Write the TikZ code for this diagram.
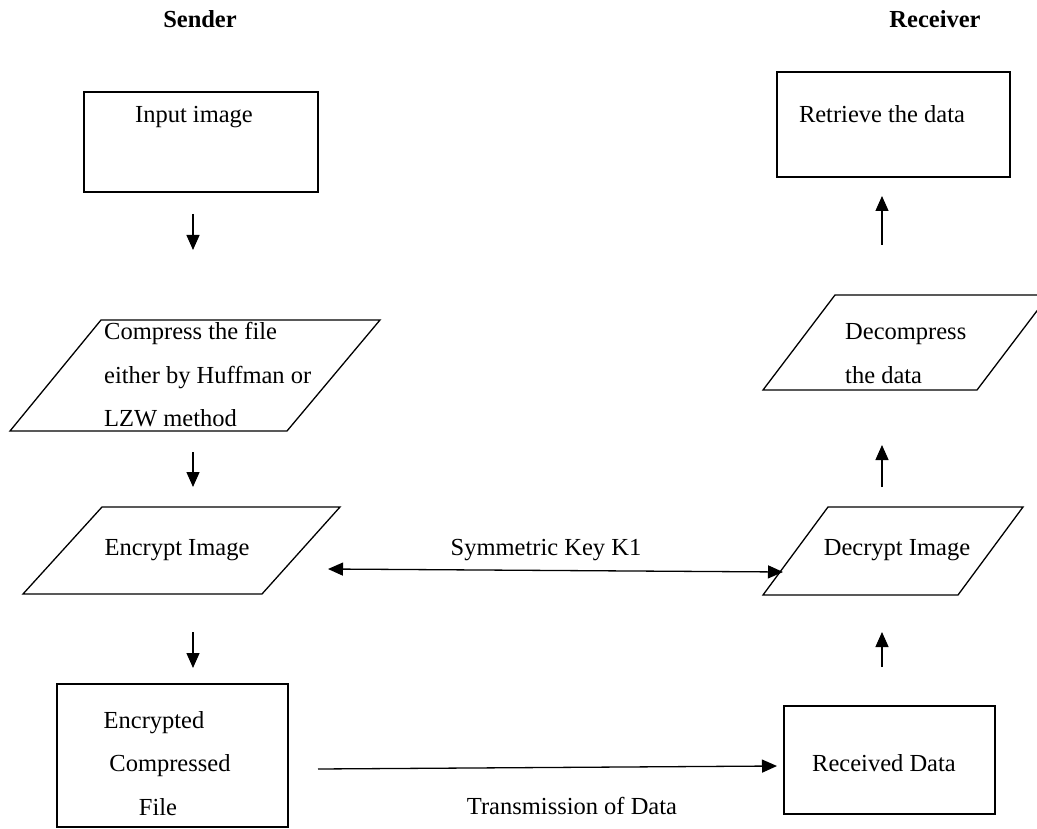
\documentclass[tikz,border=0pt]{standalone}
\usepackage{fontspec}
\setmainfont{Liberation Serif}
\usetikzlibrary{arrows.meta}
\begin{document}
\begin{tikzpicture}[x=1pt,y=-1pt,
  shp/.style={draw=black,line width=1.3pt,line join=miter},
  lbl/.style={inner sep=0pt,anchor=base,font=\fontsize{24.5}{29}\selectfont},
  lblw/.style={lbl,anchor=base west},
  hdr/.style={lbl,font=\fontsize{24.5}{29}\selectfont\bfseries},
  arr/.style={line width=1.3pt,-{Triangle[length=15pt,width=13pt]}},
  darr/.style={line width=1.3pt,{Triangle[length=15pt,width=13pt]}-{Triangle[length=15pt,width=13pt]}}]
\useasboundingbox (0,0) rectangle (1037,829);
\fill[white] (0,0) rectangle (1037,829);
% headers
\node[hdr] (sender) at (200,28) {Sender};
\node[hdr] (receiver) at (935,28) {Receiver};
% left column shapes
\draw[shp] (84,92) rectangle (318,192);
\node[lbl] (input) at (194,123) {Input image};
\draw[shp] (101,320) -- (380,320) -- (287,431) -- (10,431) -- cycle;
\node[lblw] (comp1) at (104,339) {Compress the file};
\node[lblw] (comp2) at (104,383) {either by Huffman or};
\node[lblw] (comp3) at (104,426) {LZW method};
\draw[shp] (102,507) -- (340,507) -- (262,594) -- (23,594) -- cycle;
\node[lbl] (encrypt) at (177,555) {Encrypt Image};
\draw[shp] (57,684) rectangle (288,827);
\node[lbl] (ecf1) at (154,728) {Encrypted};
\node[lbl] (ecf2) at (170,771) {Compressed};
\node[lbl] (ecf3) at (158,815) {File};
% right column shapes
\draw[shp] (777,72) rectangle (1010,177);
\node[lbl] (retrieve) at (882,123) {Retrieve the data};
\draw[shp] (835,295) -- (1049,295) -- (977,390) -- (763,390) -- cycle;
\node[lblw] (dec1) at (845,340) {Decompress};
\node[lblw] (dec2) at (845,383) {the data};
\draw[shp] (828,507) -- (1023,507) -- (958,595) -- (763,595) -- cycle;
\node[lbl] (decrypt) at (897,555) {Decrypt Image};
\draw[shp] (784,706) rectangle (995,814);
\node[lbl] (received) at (884,771) {Received Data};
% arrow end points
\coordinate (a1s) at (193,214); \coordinate (a1e) at (193,250);
\coordinate (a2s) at (193,452); \coordinate (a2e) at (193,487);
\coordinate (a3s) at (193,632); \coordinate (a3e) at (193,668);
\coordinate (b1s) at (882,245); \coordinate (b1e) at (882,196);
\coordinate (b2s) at (882,487); \coordinate (b2e) at (882,445);
\coordinate (b3s) at (882,667); \coordinate (b3e) at (882,632);
\coordinate (ks) at (328,569); \coordinate (ke) at (783,572);
\coordinate (ts) at (318,769); \coordinate (te) at (777,766);
\draw[arr] (a1s) -- (a1e);
\draw[arr] (a2s) -- (a2e);
\draw[arr] (a3s) -- (a3e);
\draw[arr] (b1s) -- (b1e);
\draw[arr] (b2s) -- (b2e);
\draw[arr] (b3s) -- (b3e);
\draw[darr] (ks) -- (ke);
\draw[arr] (ts) -- (te);
\node[lbl] (key) at (546,555) {Symmetric Key K1};
\node[lbl] (trans) at (572,814) {Transmission of Data};
\end{tikzpicture}
\end{document}
